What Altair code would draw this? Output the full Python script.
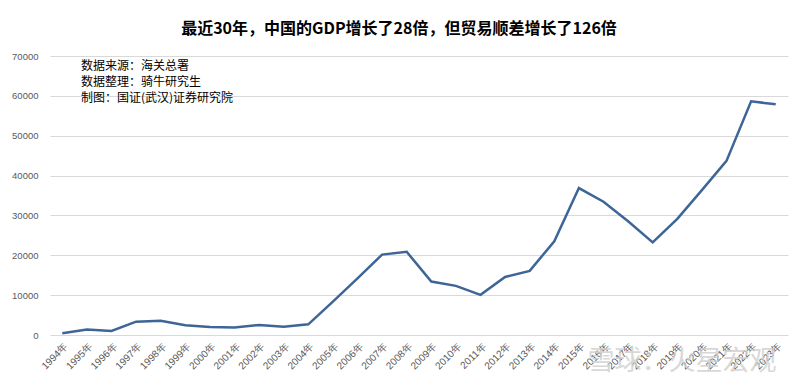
import altair as alt
import pandas as pd

years = [f"{y}年" for y in range(1994, 2024)]
surplus = [461, 1403, 1019, 3354, 3597, 2423, 1995, 1865, 2518, 2092,
           2668, 8374, 14218, 20171, 20868, 13411, 12323, 10079, 14558, 16094,
           23526, 36865, 33452, 28520, 23248, 29150, 36342, 43687, 58630, 57883]

title_text = "最近30年，中国的GDP增长了28倍，但贸易顺差增长了126倍"
notes = ["数据来源：海关总署", "数据整理：骑牛研究生", "制图：国证(武汉)证券研究院"]
note_y = [10, 26, 42]
watermark = "雪球：火星宏观"

df = pd.DataFrame({"year": years, "value": surplus})
notes_df = pd.DataFrame({"text": notes, "py": note_y})

W, H = 738, 279

line = alt.Chart(df).mark_line(color="#3D6596", strokeWidth=2.5).encode(
    x=alt.X("year:O", sort=years,
            scale=alt.Scale(paddingOuter=0.5),
            axis=alt.Axis(title=None, labelAngle=-45, labelFontSize=10,
                          labelColor="#595959", labelFont="Liberation Sans",
                          domain=False, ticks=False, labelPadding=6,
                          grid=False)),
    y=alt.Y("value:Q", scale=alt.Scale(domain=[0, 70000], nice=False),
            axis=alt.Axis(title=None, values=list(range(0, 70001, 10000)),
                          labelFontSize=9.5, labelColor="#595959",
                          labelFont="Liberation Sans", domain=False,
                          ticks=False, labelPadding=12, grid=True,
                          gridColor="#d9d9d9", format="d")),
)

note_layer = alt.Chart(notes_df).mark_text(
    align="left", baseline="middle", fontSize=12, color="#000000",
    font="Noto Sans CJK SC"
).encode(
    x=alt.value(31),
    y=alt.Y("py:Q", scale=None),
    text="text:N",
)

wm = alt.Chart(pd.DataFrame({"t": [watermark]})).mark_text(
    align="center", baseline="middle", fontSize=27, color="#cfcfcf",
    font="Noto Sans CJK SC", opacity=0.8
).encode(x=alt.value(632), y=alt.value(306), text="t:N")

chart = alt.layer(line, note_layer, wm).properties(
    width=W, height=H,
    title=alt.TitleParams(title_text, fontSize=16, fontWeight="bold",
                          font="Noto Sans CJK SC", color="#000000",
                          anchor="middle", dx=-20, offset=14),
    autosize=alt.AutoSizeParams(type="none"),
    padding={"left": 42, "top": 48, "right": 4, "bottom": 48},
).configure_view(stroke=None)

chart.save("out.html", embed_options={"renderer": "svg", "actions": False})
